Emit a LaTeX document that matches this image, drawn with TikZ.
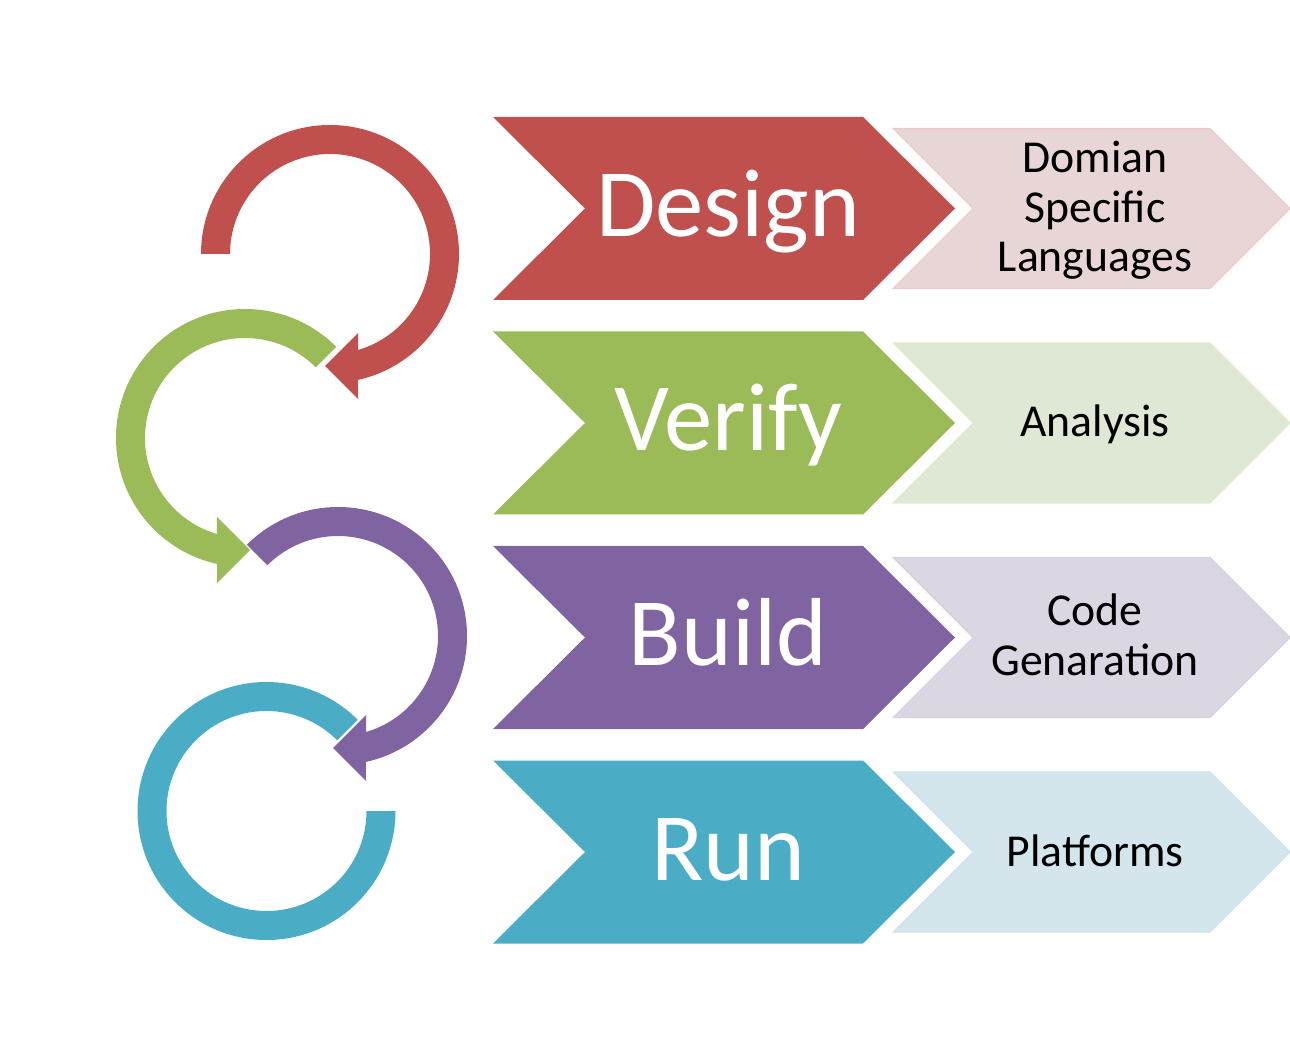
\documentclass[tikz,border=0pt]{standalone}
\usepackage{fontspec}
\setmainfont{Carlito}
\usepackage{tikz}

\definecolor{dred}{HTML}{C0504D}
\definecolor{dgreen}{HTML}{9BBB59}
\definecolor{dpurple}{HTML}{8064A2}
\definecolor{dteal}{HTML}{4BACC6}
\definecolor{lred}{HTML}{E8D5D6}
\definecolor{lgreen}{HTML}{DFE8D5}
\definecolor{lpurple}{HTML}{DCD6E3}
\definecolor{lteal}{HTML}{D4E5EB}

\begin{document}
\begin{tikzpicture}[x=0.02cm,y=0.02cm,
    bigtext/.style={text=white,anchor=base,font=\fontsize{55}{60}\selectfont},
    smalltext/.style={anchor=base,align=center,font=\fontsize{26}{28.45}\selectfont}]
    \useasboundingbox (0,0) rectangle (1290,1062);

    % chevrons, one row each
    \foreach \c/\l/\m in {dred/lred/853.5,dgreen/lgreen/639,dpurple/lpurple/424.5,dteal/lteal/210}
    {
        \fill[\c] (493,\m+91.5) -- (863,\m+91.5) -- (955,\m) -- (863,\m-91.5) -- (493,\m-91.5) -- (585,\m) -- cycle;
        \filldraw[fill=\l,draw=\c!30,line width=0.6pt] (893,\m+80) -- (1210,\m+80) -- (1290,\m) -- (1210,\m-80) -- (893,\m-80) -- (973,\m) -- cycle;
    }

    \node[bigtext] (design) at (728,825.5) {Design};
    \node[bigtext] (verify) at (728,611) {Verify};
    \node[bigtext] (build) at (728,396.5) {Build};
    \node[bigtext] (run) at (728,182) {Run};

    \node[smalltext] (dsl) at (1095,790) {Domian\\Specific\\Languages};
    \node[smalltext] (analysis) at (1095,625) {Analysis};
    \node[smalltext] (codegen) at (1095,387) {Code\\Genaration};
    \node[smalltext] (platforms) at (1095,196) {Platforms};

    % circular arrows
    \foreach \x/\y/\s/\a/\c in {330/808/1/180/dred,245/624/-1/135/dgreen,338/426/1/135/dpurple}
    {
        \begin{scope}[shift={(\x,\y)},xscale=\s]
            \fill[\c] (\a:100) -- (\a:129) arc[start angle=\a,end angle=-77.5,radius=129]
                -- (28,-145) -- (-5,-112) -- (28,-79) -- (-73.7:100)
                arc[start angle=-73.7,end angle=\a,radius=100] -- cycle;
        \end{scope}
    }
    \begin{scope}[shift={(266.5,251)}]
        \fill[dteal] (45:100) -- (45:129) arc[start angle=45,end angle=360,radius=129]
            -- (0:100) arc[start angle=360,end angle=45,radius=100] -- cycle;
    \end{scope}
\end{tikzpicture}
\end{document}
